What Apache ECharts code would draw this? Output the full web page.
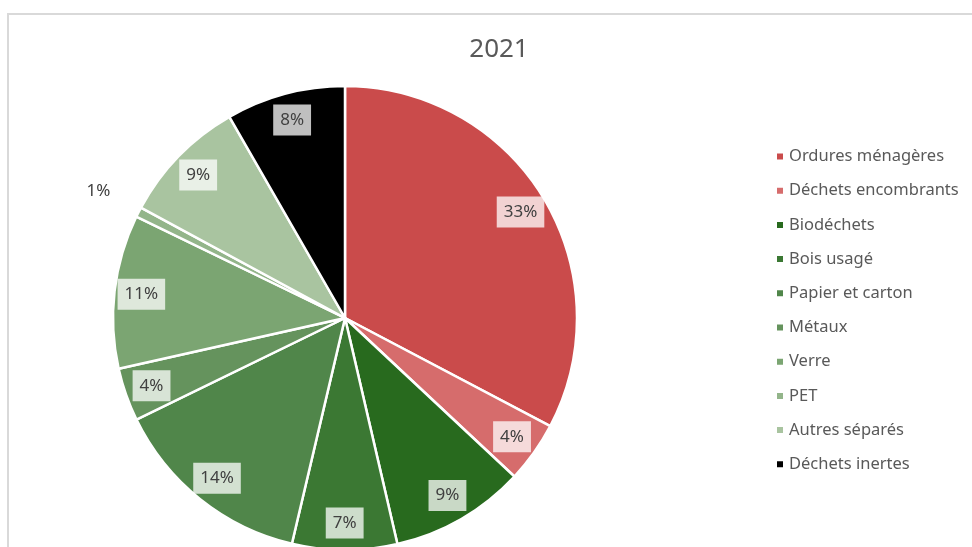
<!DOCTYPE html>
<html>
<head>
<meta charset="utf-8">
<script src="https://cdn.jsdelivr.net/npm/echarts@6/dist/echarts.min.js"></script>
<style>
html,body{margin:0;padding:0;background:#fff;}
#c{width:972px;height:547px;}
</style>
</head>
<body>
<div id="c"></div>
<script>
const title = '2021';
const categories = ['Ordures ménagères','Déchets encombrants','Biodéchets','Bois usagé','Papier et carton','Métaux','Verre','PET','Autres séparés','Déchets inertes'];
const values = [32.7, 4.25, 9.4, 7.3, 14.1, 3.7, 10.7, 0.7, 8.8, 8.3];
const colors = ['#CA4B4B','#D66C6C','#286A1E','#3B7833','#50864A','#65935D','#7BA572','#93B58A','#A9C4A0','#000000'];
const outsideLabelCats = ['PET'];

const FONT = 'Noto Sans';
const center = [345, 318];
const R = 232;

const mainData = categories.map((n, i) => ({ name: n, value: values[i], itemStyle: { color: colors[i] } }));
const ringData = categories.map((n, i) => ({
  name: n, value: values[i],
  label: { show: outsideLabelCats.indexOf(n) < 0 }
}));
const outerData = categories.map((n, i) => ({
  name: n, value: values[i],
  label: { show: outsideLabelCats.indexOf(n) >= 0 }
}));

const chart = echarts.init(document.getElementById('c'), null, { renderer: 'canvas' });
chart.setOption({
  animation: false,
  backgroundColor: '#ffffff',
  title: {
    text: title, left: 494, top: 32, textAlign: 'center',
    textStyle: { fontFamily: FONT, fontSize: 26, fontWeight: 'normal', color: '#595959' }
  },
  graphic: [{
    type: 'rect', silent: true, z: -1,
    shape: { x: 8, y: 14, width: 1000, height: 600 },
    style: { fill: 'none', stroke: '#d9d9d9', lineWidth: 2 }
  }],
  legend: {
    orient: 'vertical', left: 770, top: 143,
    data: categories,
    icon: 'rect', itemWidth: 8, itemHeight: 8, itemGap: 17.2,
    textStyle: { fontFamily: FONT, fontSize: 16.5, color: '#595959', lineHeight: 16 }
  },
  series: [
    {
      type: 'pie', name: 'main', center: center, radius: [0, R],
      startAngle: 90, clockwise: true, silent: true,
      avoidLabelOverlap: false,
      itemStyle: { borderColor: '#ffffff', borderWidth: 2.5 },
      label: { show: false }, labelLine: { show: false },
      data: mainData
    },
    {
      type: 'pie', name: 'labels', center: center, radius: [172, R],
      startAngle: 90, clockwise: true, silent: true, percentPrecision: 0,
      avoidLabelOverlap: false,
      itemStyle: { color: 'rgba(0,0,0,0)', borderWidth: 0 },
      label: {
        show: true, position: 'inside', formatter: '{d}%',
        fontFamily: FONT, fontSize: 17, color: '#404040',
        backgroundColor: 'rgba(255,255,255,0.75)', padding: [6, 7, 5, 7], lineHeight: 20
      },
      labelLine: { show: false },
      data: ringData
    },
    {
      type: 'pie', name: 'outer', center: center, radius: [R, 316],
      startAngle: 90, clockwise: true, silent: true, percentPrecision: 0,
      avoidLabelOverlap: false,
      itemStyle: { color: 'rgba(0,0,0,0)', borderWidth: 0 },
      label: {
        position: 'inside', formatter: '{d}%',
        fontFamily: FONT, fontSize: 17, color: '#404040'
      },
      labelLine: { show: false },
      data: outerData
    }
  ]
});
</script>
</body>
</html>
